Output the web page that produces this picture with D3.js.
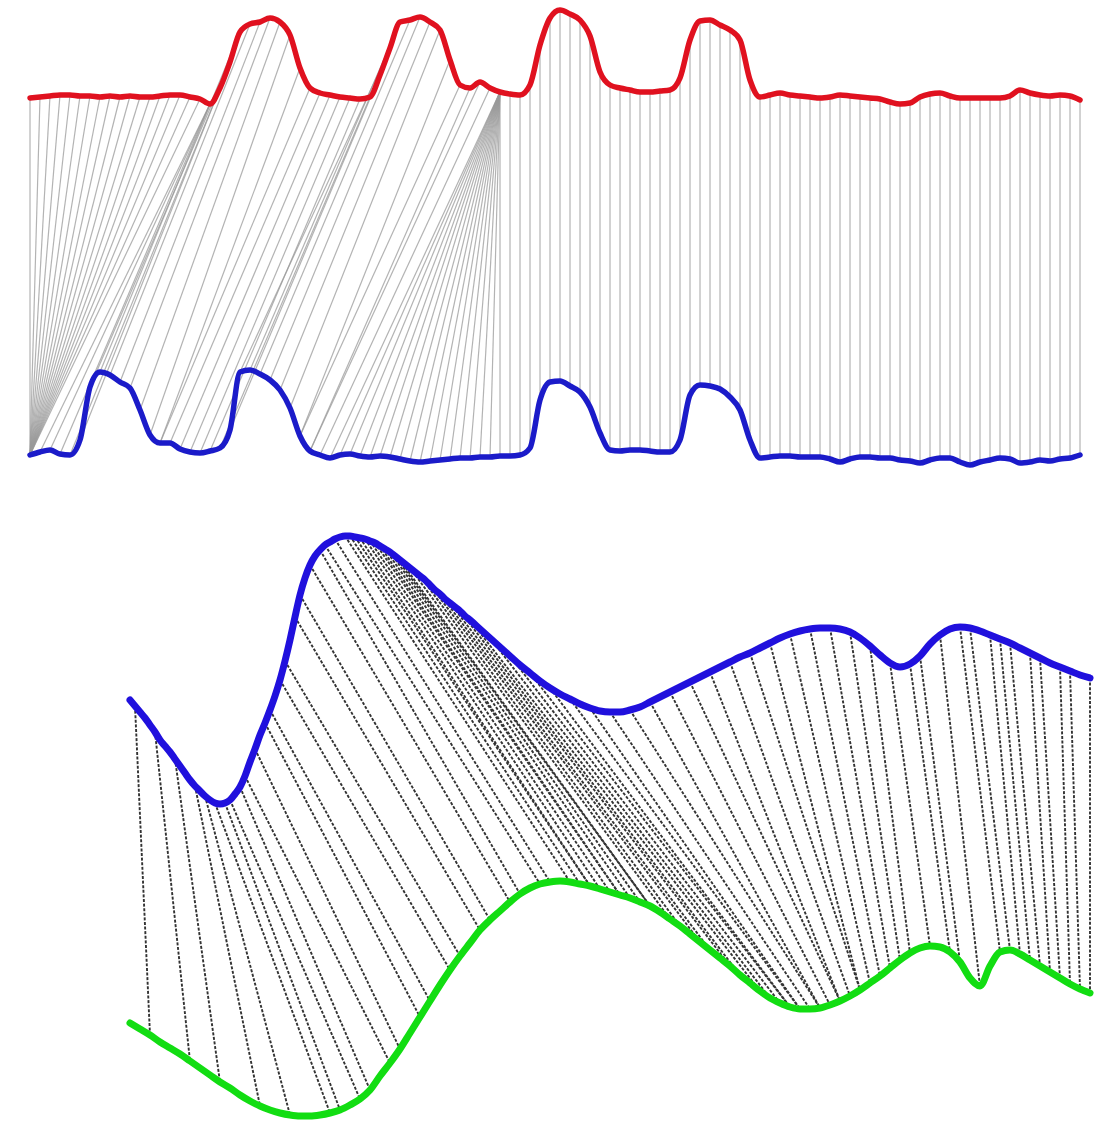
<!DOCTYPE html>
<html>
<head>
<meta charset="utf-8">
<script src="https://cdn.jsdelivr.net/npm/d3@7"></script>
<style>
  body { margin: 0; background: #fff; }
</style>
</head>
<body>
<svg id="svg"></svg>
<script>
// top pair: sampled every step, index = sample number
const redTop = [
  0.2, 0.3, 0.4, 0.5, 0.5, 0.4, 0.4, 0.3, 0.4, 0.3,
  0.4, 0.3, 0.3, 0.4, 0.5, 0.5, 0.3, 0.1, -0.4, 1.2,
  3.8, 6.8, 7.6, 7.8, 8.2, 7.8, 6.5, 3.2, 1.2, 0.7,
  0.5, 0.3, 0.2, 0.1, 0.3, 2.5, 5.2, 7.8, 8.0, 8.3,
  7.8, 7.0, 4.0, 1.5, 1.2, 1.8, 1.2, 0.8, 0.6, 0.5,
  1.5, 5.5, 8.2, 9.0, 8.6, 8.0, 6.4, 2.8, 1.5, 1.2,
  1.0, 0.8, 0.8, 0.9, 1.0, 2.2, 6.0, 7.9, 8.0, 7.5,
  7.0, 6.0, 2.0, 0.3, 0.5, 0.7, 0.5, 0.4, 0.3, 0.2,
  0.3, 0.5, 0.4, 0.3, 0.2, 0.1, -0.2, -0.4, -0.3, 0.3,
  0.6, 0.7, 0.4, 0.2, 0.2, 0.2, 0.2, 0.2, 0.4, 1.0,
  0.7, 0.5, 0.4, 0.5, 0.4, 0.0
];
const blueTop = [
  0.5, 0.8, 1.0, 0.6, 0.5, 2.0, 7.3, 8.8, 8.5, 7.8,
  7.2, 5.0, 2.5, 1.7, 1.7, 1.1, 0.8, 0.7, 0.9, 1.2,
  3.0, 8.8, 9.0, 8.6, 8.0, 7.0, 5.2, 2.4, 0.9, 0.5,
  0.2, 0.5, 0.6, 0.4, 0.3, 0.4, 0.3, 0.1, -0.1, -0.2,
  -0.1, 0.0, 0.1, 0.2, 0.2, 0.3, 0.3, 0.4, 0.4, 0.5,
  1.2, 6.0, 7.8, 7.9, 7.4, 6.8, 5.3, 2.7, 1.0, 0.9,
  1.0, 1.0, 0.9, 0.8, 0.8, 2.0, 6.5, 7.5, 7.4, 7.1,
  6.3, 5.0, 2.0, 0.2, 0.3, 0.4, 0.4, 0.3, 0.3, 0.3,
  0.1, -0.2, 0.1, 0.3, 0.3, 0.2, 0.2, 0.0, -0.1, -0.3,
  0.0, 0.2, 0.2, -0.2, -0.5, -0.2, 0.0, 0.2, 0.1, -0.3,
  -0.2, 0.0, -0.1, 0.1, 0.2, 0.5
];

// warping path of the top pair (red index -> blue index)
const topPathRed = [
  0, 1, 2, 3, 4, 5, 6, 7, 8, 9, 10, 11, 12, 13, 14, 15, 16, 17,
  18, 18, 18, 19, 19, 20, 21, 22, 23, 24, 25, 26, 27, 28,
  29, 30, 31, 32, 33, 34, 35, 36, 37, 38, 39, 40, 41, 42, 43, 44, 45, 46,
  47, 47, 47, 47, 47, 47, 47, 47, 47, 47, 47, 47, 47, 47, 47, 47, 47, 47,
  48, 49, 50, 51, 52, 53, 54, 55, 56, 57, 58, 59, 60, 61, 62, 63, 64, 65,
  66, 67, 68, 69, 70, 71, 72, 73, 74, 75, 76, 77, 78, 79, 80, 81, 82, 83,
  84, 85, 86, 87, 88, 89, 90, 91, 92, 93, 94, 95, 96, 97, 98, 99, 100,
  101, 102, 103, 104, 105
];
const topPathBlue = [
  0, 0, 0, 0, 0, 0, 0, 0, 0, 0, 0, 0, 0, 0, 0, 0, 0, 0,
  1, 2, 3, 4, 5, 6, 7, 8, 9, 10, 11, 12, 13, 13,
  14, 15, 16, 17, 18, 19, 20, 21, 22, 23, 24, 25, 26, 27, 27, 28, 28, 29,
  30, 31, 32, 33, 34, 35, 36, 37, 38, 39, 40, 41, 42, 43, 44, 45, 46, 47,
  48, 49, 50, 51, 52, 53, 54, 55, 56, 57, 58, 59, 60, 61, 62, 63, 64, 65,
  66, 67, 68, 69, 70, 71, 72, 73, 74, 75, 76, 77, 78, 79, 80, 81, 82, 83,
  84, 85, 86, 87, 88, 89, 90, 91, 92, 93, 94, 95, 96, 97, 98, 99, 100,
  101, 102, 103, 104, 105
];

// bottom pair: blue is sampled twice as often on its first part
const blueBottomTime = [
  0, 0.5, 1, 1.5, 2, 2.5, 3, 3.5, 4, 4.5, 5, 5.5, 6, 6.5, 7, 7.5,
  8, 8.5, 9, 9.5, 10, 10.5, 11, 11.5, 12, 12.5, 13, 13.5, 14, 14.5,
  15, 15.5, 16, 16.5, 17, 17.5, 18, 18.5, 19, 19.5, 20, 20.5, 21, 21.5,
  22, 22.5, 23, 23.5, 24, 24.5, 25, 25.5, 26, 26.5, 27, 27.5, 28, 28.5,
  29, 29.5, 30, 30.5, 31, 31.5, 32, 32.5, 33, 33.5, 34,
  35, 36, 37, 38, 39, 40, 41, 42, 43, 44, 45, 46, 47, 48, 49, 50,
  51, 52, 53, 54, 55, 56, 57, 58, 59, 60, 61, 62, 63, 64, 65, 66,
  67, 68, 69, 70, 71, 72, 73, 74, 75, 76, 77, 78, 79, 80, 81, 82,
  83, 84, 85, 86, 87, 88, 89, 90, 91, 92, 93, 94, 95, 96
];
const blueBottom = [
  1.20, 1.14, 1.08, 1.02, 0.95, 0.88, 0.80, 0.74, 0.68, 0.61, 0.54, 0.47, 0.40, 0.34, 0.29, 0.24,
  0.20, 0.17, 0.16, 0.17, 0.20, 0.26, 0.33, 0.44, 0.58, 0.71, 0.85, 0.97, 1.10, 1.24,
  1.40, 1.59, 1.80, 2.03, 2.25, 2.42, 2.55, 2.64, 2.70, 2.75, 2.78, 2.81, 2.83, 2.84,
  2.84, 2.83, 2.82, 2.81, 2.79, 2.77, 2.74, 2.71, 2.68, 2.64, 2.60, 2.56, 2.52, 2.48,
  2.44, 2.40, 2.35, 2.30, 2.26, 2.21, 2.17, 2.13, 2.09, 2.04, 2.00,
  1.91, 1.82, 1.73, 1.64, 1.55, 1.47, 1.39, 1.32, 1.26, 1.21, 1.16, 1.12, 1.09, 1.08, 1.08,
  1.10, 1.13, 1.18, 1.23, 1.28, 1.33, 1.38, 1.43, 1.48, 1.53, 1.58, 1.63, 1.67, 1.72, 1.77, 1.82,
  1.86, 1.89, 1.91, 1.92, 1.92, 1.91, 1.88, 1.82, 1.74, 1.65, 1.57, 1.53, 1.56, 1.64, 1.76, 1.85,
  1.91, 1.93, 1.92, 1.89, 1.85, 1.81, 1.77, 1.72, 1.67, 1.62, 1.57, 1.53, 1.49, 1.45, 1.42
];
const greenBottom = [
  0.97, 0.91, 0.85, 0.78, 0.72, 0.66, 0.59, 0.52, 0.45, 0.38,
  0.32, 0.25, 0.19, 0.14, 0.10, 0.07, 0.05, 0.04, 0.04, 0.05,
  0.07, 0.10, 0.15, 0.21, 0.30, 0.44, 0.57, 0.71, 0.87, 1.03,
  1.19, 1.35, 1.50, 1.64, 1.77, 1.90, 2.00, 2.09, 2.18, 2.26,
  2.32, 2.36, 2.38, 2.39, 2.38, 2.36, 2.34, 2.31, 2.28, 2.25,
  2.22, 2.18, 2.14, 2.08, 2.01, 1.94, 1.86, 1.78, 1.70, 1.62,
  1.54, 1.45, 1.37, 1.29, 1.22, 1.17, 1.13, 1.11, 1.11, 1.12,
  1.15, 1.19, 1.24, 1.30, 1.37, 1.44, 1.52, 1.60, 1.67, 1.72,
  1.74, 1.73, 1.68, 1.58, 1.42, 1.34, 1.54, 1.68, 1.70, 1.66,
  1.60, 1.54, 1.48, 1.42, 1.36, 1.31, 1.27
];

// warping lines of the bottom pair (blue sample index -> green sample index)
const bottomPathBlue = [
  1, 5, 9, 13, 15,
  17, 19, 20, 22, 23, 25, 27, 28, 30, 31, 33, 34, 36, 38, 39, 41, 43,
  44, 45, 46, 47, 48, 49, 50, 51, 52, 53, 54,
  56, 58, 60, 62, 64, 66, 68,
  70, 72, 74, 76, 78, 80, 82,
  84, 86, 88, 90, 92, 94, 96, 98, 100, 102, 104,
  106, 108, 110, 112, 113, 115, 117, 118, 120, 121, 122, 124, 125, 127, 128, 130
];
const bottomPathGreen = [
  2, 6, 9, 13, 16,
  20, 21, 23, 24, 26, 27, 29, 30, 32, 33, 35, 36, 38, 39, 41, 42, 44,
  45, 46, 46, 47, 48, 49, 49, 50, 51, 52, 52,
  54, 55, 57, 58, 60, 61, 63,
  64, 65, 66, 66, 67, 67, 68,
  69, 69, 70, 71, 71, 72, 73, 73, 74, 75, 76,
  77, 78, 80, 82, 83, 85, 87, 88, 89, 90, 91, 92, 93, 94, 95, 96
];

const width = 1115;
const height = 1128;

const svg = d3.select("#svg")
  .attr("width", width)
  .attr("height", height)
  .attr("viewBox", [0, 0, width, height]);

// ---- top panel
const xTop = d3.scaleLinear([0, redTop.length - 1], [30, 1080]);
const yRed = d3.scaleLinear([0, 10], [100, 0]);
const yBlueTop = d3.scaleLinear([0, 10], [460, 360]);

svg.append("g")
  .selectAll("line")
  .data(d3.range(topPathRed.length))
  .join("line")
  .attr("x1", k => xTop(topPathRed[k]))
  .attr("y1", k => yRed(redTop[topPathRed[k]]))
  .attr("x2", k => xTop(topPathBlue[k]))
  .attr("y2", k => yBlueTop(blueTop[topPathBlue[k]]))
  .attr("stroke", "#9a9a9a")
  .attr("stroke-opacity", 0.75)
  .attr("stroke-width", 1.2);

const topLine = (yScale) => d3.line()
  .x((d, i) => xTop(i))
  .y(d => yScale(d))
  .curve(d3.curveMonotoneX);

svg.append("path")
  .datum(redTop)
  .attr("fill", "none")
  .attr("stroke", "#e0111f")
  .attr("stroke-width", 5.5)
  .attr("stroke-linejoin", "round")
  .attr("stroke-linecap", "round")
  .attr("d", topLine(yRed));

svg.append("path")
  .datum(blueTop)
  .attr("fill", "none")
  .attr("stroke", "#1b1bc9")
  .attr("stroke-width", 5.5)
  .attr("stroke-linejoin", "round")
  .attr("stroke-linecap", "round")
  .attr("d", topLine(yBlueTop));

// ---- bottom panel
const xBot = d3.scaleLinear([0, greenBottom.length - 1], [130, 1090]);
const yBlueBot = d3.scaleLinear([0, 3], [820, 520]);
const yGreen = d3.scaleLinear([0, 3], [1120, 820]);

svg.append("g")
  .selectAll("line")
  .data(d3.range(bottomPathBlue.length))
  .join("line")
  .attr("x1", k => xBot(blueBottomTime[bottomPathBlue[k]]))
  .attr("y1", k => yBlueBot(blueBottom[bottomPathBlue[k]]))
  .attr("x2", k => xBot(bottomPathGreen[k]))
  .attr("y2", k => yGreen(greenBottom[bottomPathGreen[k]]))
  .attr("stroke", "#333")
  .attr("stroke-width", 1.9)
  .attr("stroke-dasharray", "3,1.6");

svg.append("path")
  .datum(blueBottom)
  .attr("fill", "none")
  .attr("stroke", "#2010dd")
  .attr("stroke-width", 7)
  .attr("stroke-linecap", "round")
  .attr("d", d3.line()
    .x((d, i) => xBot(blueBottomTime[i]))
    .y(d => yBlueBot(d))
    .curve(d3.curveMonotoneX));

svg.append("path")
  .datum(greenBottom)
  .attr("fill", "none")
  .attr("stroke", "#12dd12")
  .attr("stroke-width", 7)
  .attr("stroke-linecap", "round")
  .attr("d", d3.line()
    .x((d, i) => xBot(i))
    .y(d => yGreen(d))
    .curve(d3.curveMonotoneX));
</script>
</body>
</html>
